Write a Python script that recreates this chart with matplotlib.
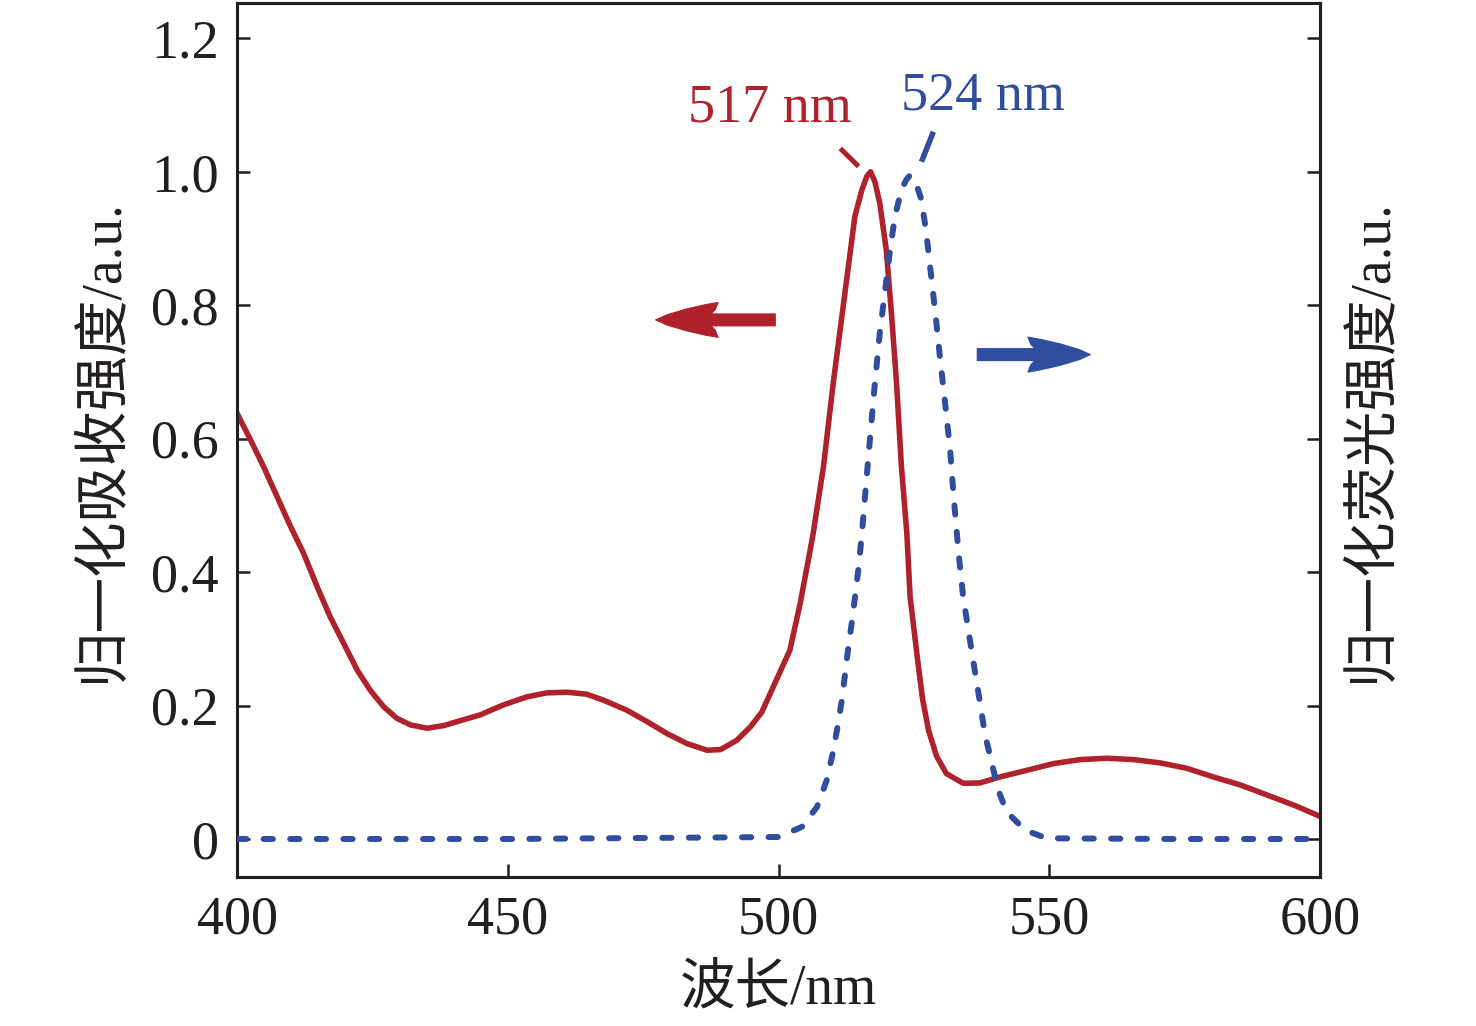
import matplotlib
matplotlib.use("Agg")
import matplotlib.pyplot as plt
import matplotlib.transforms as mtransforms
from matplotlib.patches import Polygon

# ---------------- data ----------------
abs_wavelength = [400, 402.5, 404.9, 407.4, 409.9, 412.3, 414.8, 417.2, 419.7, 422.2,
                  424.6, 427.1, 429.5, 432, 435.1, 438.2, 441.5, 444.9, 449.2, 453.5,
                  457.2, 460.9, 464.6, 467.7, 472, 475.7, 479.4, 483.1, 486.8, 489.3,
                  492.3, 494.8, 496.9, 499.7, 502.1, 504.0, 505.5, 506.4, 508.3, 510.1,
                  511.7, 512.9, 514.1, 515.4, 516.3, 517, 517.8, 518.7, 519.9, 520.9,
                  521.8, 522.7, 523.7, 524.3, 525.8, 526.6, 527.7, 529.2, 531.0, 534.1,
                  537.2, 540.9, 545.9, 550.8, 555.7, 560.7, 565.6, 570.5, 575.4, 580.3,
                  585.3, 590.2, 595.1, 600]
abs_intensity = [0.638, 0.598, 0.558, 0.513, 0.468, 0.428, 0.378, 0.333, 0.293, 0.253,
                 0.223, 0.198, 0.181, 0.171, 0.166, 0.170, 0.178, 0.186, 0.201, 0.213,
                 0.219, 0.220, 0.217, 0.208, 0.193, 0.176, 0.158, 0.143, 0.133, 0.134,
                 0.148, 0.168, 0.190, 0.240, 0.283, 0.353, 0.418, 0.458, 0.558, 0.683,
                 0.783, 0.858, 0.933, 0.973, 0.993, 1.000, 0.985, 0.953, 0.883, 0.783,
                 0.683, 0.558, 0.458, 0.363, 0.261, 0.210, 0.163, 0.124, 0.098, 0.0835,
                 0.084, 0.093, 0.103, 0.113, 0.119, 0.121, 0.119, 0.114, 0.106, 0.093,
                 0.081, 0.066, 0.051, 0.034]

fl_wavelength = [400, 450, 500, 504.3, 507.1, 508.9, 510.0, 510.9, 511.7, 512.3, 512.9,
                 513.6, 514.2, 514.8, 515.4, 516.6, 517.8, 518.7, 519.7, 520.6, 521.5,
                 522.7, 523.6, 524.3, 525.5, 526.4, 527.3, 528.2, 528.9, 529.8, 530.7,
                 531.7, 532.3, 533.2, 534.1, 535.9, 537.2, 538.1, 539.4, 540.6, 542.1,
                 545.5, 549.5, 575, 600]
fl_intensity = [0.0, 0.0, 0.003, 0.018, 0.048, 0.088, 0.128, 0.168, 0.208, 0.248, 0.288,
                0.328, 0.368, 0.408, 0.458, 0.573, 0.683, 0.758, 0.823, 0.883, 0.933,
                0.973, 0.988, 0.995, 0.980, 0.958, 0.908, 0.843, 0.793, 0.723, 0.658,
                0.583, 0.518, 0.433, 0.363, 0.270, 0.205, 0.158, 0.113, 0.073, 0.041,
                0.0135, 0.001, 0.0, 0.0]

x_ticks = [400, 450, 500, 550, 600]
x_tick_labels = ["400", "450", "500", "550", "600"]
y_ticks = [0, 0.2, 0.4, 0.6, 0.8, 1.0, 1.2]
y_tick_labels = ["0", "0.2", "0.4", "0.6", "0.8", "1.0", "1.2"]

abs_peak_label = "517 nm"
fl_peak_label = "524 nm"
x_label = "波长/nm"
y_label_left = "归一化吸收强度/a.u."
y_label_right = "归一化荧光强度/a.u."

RED = "#B0222B"
BLUE = "#2F4E9F"
INK = "#231f20"
FAM = ["Liberation Serif", "Noto Sans CJK SC", "DejaVu Sans"]
FS = 39
FS_LAB = 40

plt.rcParams["font.family"] = FAM
plt.rcParams["axes.unicode_minus"] = False

fig = plt.figure(figsize=(14.76, 10.26), dpi=100)
ax = fig.add_axes([0.1606, 0.1452, 0.7337, 0.8519])
ax2 = ax.twinx()

ax.plot(abs_wavelength, abs_intensity, color=RED, lw=4.0, solid_capstyle="round",
        solid_joinstyle="round", zorder=3)
ax2.plot(fl_wavelength, fl_intensity, color=BLUE, lw=4.3, dashes=(1.55, 2.9),
         dash_capstyle="round", zorder=3)

for a in (ax, ax2):
    a.set_xlim(400, 600)
    a.set_ylim(-0.057, 1.253)
    for s in a.spines.values():
        s.set_linewidth(2.2)
        s.set_color(INK)

ax.set_xticks(x_ticks)
ax.set_xticklabels(x_tick_labels)
ax.set_yticks(y_ticks)
ax.set_yticklabels(y_tick_labels)
ax.tick_params(axis="both", direction="in", length=9.5, width=1.8, color=INK,
               labelsize=FS, labelcolor=INK)
ax.tick_params(axis="x", pad=13, top=False)
ax.tick_params(axis="y", pad=13, left=True, right=False)
ax2.set_yticks(y_ticks)
ax2.tick_params(axis="y", direction="in", length=9.5, width=1.8, color=INK,
                labelright=False)

ax.set_xlabel(x_label, fontsize=FS_LAB, color=INK, family=FAM, labelpad=13)
ax.set_ylabel(y_label_left, fontsize=FS_LAB, color=INK, family=FAM)
ax.yaxis.set_label_coords(-0.100, 0.5)
ax2.set_ylabel(y_label_right, fontsize=FS_LAB, color=INK, family=FAM,
               rotation=90, va="bottom")
ax2.yaxis.set_label_coords(1.072, 0.5)

# peak labels and leader lines
ax.text(498.5, 1.075, abs_peak_label, color=RED, fontsize=FS, ha="center",
        va="baseline", family=FAM)
ax.text(537.7, 1.093, fl_peak_label, color=BLUE, fontsize=FS, ha="center",
        va="baseline", family=FAM)
ax.plot([511.4, 514.8], [1.035, 1.008], color=RED, lw=3.6, solid_capstyle="butt")
ax.plot([528.6, 526.4], [1.060, 1.015], color=BLUE, lw=4.0, solid_capstyle="butt")


# direction arrows (shape in points, measured backwards from the tip)
def draw_arrow(tip_x, tip_y, tail_x, color):
    p0 = ax.transData.transform((tip_x, tip_y))
    p1 = ax.transData.transform((tail_x, tip_y))
    length = abs(p1[0] - p0[0]) * 72.0 / fig.dpi
    sgn = 1.0 if tail_x > tip_x else -1.0
    half = [(0, 0), (8, 3.6), (22, 7.8), (36, 11.0), (45, 12.6), (43, 7.5), (40, 4.3),
            (length, 4.3)]
    verts = half + [(x, -y) for (x, y) in reversed(half)]
    verts = [(sgn * x, y) for (x, y) in verts]
    trans = (mtransforms.Affine2D().scale(1 / 72.0) + fig.dpi_scale_trans
             + mtransforms.ScaledTranslation(tip_x, tip_y, ax.transData))
    poly = Polygon(verts, closed=True, transform=trans, facecolor=color,
                   edgecolor=color, lw=0.8, joinstyle="round", zorder=4)
    ax.add_patch(poly)


arrow_y_abs = 0.778
arrow_y_fl = 0.726
draw_arrow(477.3, arrow_y_abs, 499.4, RED)
draw_arrow(557.6, arrow_y_fl, 536.7, BLUE)

fig.savefig("out.png", dpi=100)
